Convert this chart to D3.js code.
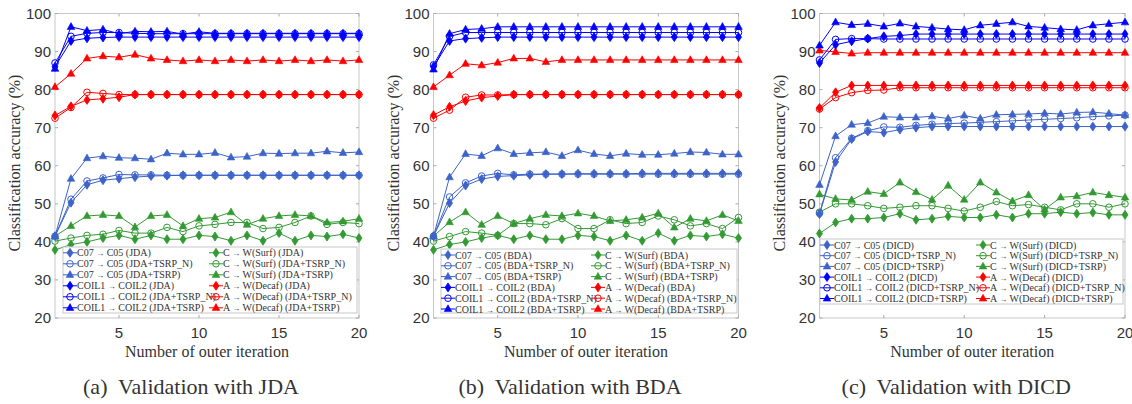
<!DOCTYPE html>
<html>
<head>
<meta charset="utf-8">
<script src="https://cdn.jsdelivr.net/npm/d3@7"></script>
<style>
  body { margin: 0; background: #fff; }
  .tick-label { font-family: "Liberation Sans", Arial, sans-serif; font-size: 15px; fill: #333; }
  .serif { font-family: "Liberation Serif", "Times New Roman", serif; fill: #333; white-space: pre; }
</style>
</head>
<body>
<svg id="chart" width="1132" height="404"></svg>
<script>

// x categories and tick labels
var iterations = [1,2,3,4,5,6,7,8,9,10,11,12,13,14,15,16,17,18,19,20];
var xTicks = [5, 10, 15, 20];
var yTicks = [20, 30, 40, 50, 60, 70, 80, 90, 100];

// series order inside each group: [base, +TSRP_N, +TSRP]
var jdaC07 = [
  [41.5,50.3,55.0,56.2,56.6,57.0,57.3,57.4,57.5,57.5,57.5,57.5,57.5,57.5,57.5,57.5,57.5,57.5,57.5,57.5],
  [41.5,51.2,56.0,56.8,57.7,57.6,57.6,57.5,57.5,57.5,57.5,57.5,57.5,57.5,57.5,57.5,57.5,57.5,57.5,57.5],
  [41.5,56.6,62.0,62.5,62.1,62.0,61.7,63.3,63.0,63.0,63.4,62.2,62.4,63.3,63.2,63.3,63.3,63.8,63.4,63.6]
];
var jdaCoil = [
  [86.0,92.8,93.5,93.7,93.8,93.8,93.8,93.8,93.8,93.8,93.8,93.8,93.8,93.8,93.8,93.8,93.8,93.8,93.8,93.8],
  [87.0,94.0,94.8,95.0,95.0,94.8,94.7,94.7,94.7,94.7,94.7,94.7,94.7,94.7,94.7,94.7,94.7,94.7,94.7,94.7],
  [85.5,96.5,95.5,95.8,94.7,95.3,95.2,95.3,94.6,95.2,94.8,94.8,94.8,94.8,94.8,94.8,94.8,94.8,94.8,94.8]
];
var jdaSurf = [
  [37.9,39.3,40.0,41.0,41.7,40.7,41.7,40.7,40.7,41.7,41.4,40.3,41.7,40.3,42.3,40.3,41.7,41.4,42.0,41.0],
  [40.2,41.0,41.7,42.0,43.0,42.3,42.3,43.8,42.7,44.2,44.6,45.1,45.1,43.5,43.8,45.1,46.8,44.6,45.1,44.8],
  [41.5,44.2,46.8,47.1,46.8,43.9,46.8,47.1,44.2,46.1,46.4,47.8,44.5,46.1,46.8,47.1,46.8,45.1,45.4,46.1]
];
var jdaDecaf = [
  [73.2,75.6,77.3,77.6,78.0,78.7,78.7,78.7,78.7,78.7,78.7,78.7,78.7,78.7,78.7,78.7,78.7,78.7,78.7,78.7],
  [72.5,75.3,79.3,79.0,78.7,78.7,78.7,78.7,78.7,78.7,78.7,78.7,78.7,78.7,78.7,78.7,78.7,78.7,78.7,78.7],
  [80.7,84.2,88.2,88.8,88.5,89.2,88.2,87.8,87.5,87.8,87.5,87.8,87.5,87.8,87.5,87.8,87.5,87.8,87.5,87.8]
];

var bdaC07 = [
  [41.5,50.2,54.8,56.5,57.2,57.4,57.6,57.8,57.8,57.9,57.9,57.9,57.9,58.0,58.0,58.0,58.0,58.0,58.0,58.0],
  [41.5,51.8,55.5,57.3,58.0,57.6,57.8,57.8,57.8,57.8,57.8,57.8,57.8,57.8,57.8,57.8,57.8,57.8,57.8,57.8],
  [41.5,57.0,63.1,62.6,64.6,63.1,63.4,63.6,62.6,64.1,63.1,62.6,63.2,62.9,62.9,63.2,63.6,63.5,63.0,63.0]
];
var bdaCoil = [
  [86.0,92.8,93.4,93.6,93.8,93.8,93.8,93.8,93.8,93.8,93.8,93.8,93.8,93.8,93.8,93.8,93.8,93.8,93.8,93.8],
  [86.5,94.0,95.0,95.0,95.0,95.0,95.0,95.0,95.0,95.0,95.0,95.0,95.0,95.0,95.0,95.0,95.0,95.0,95.0,95.0],
  [85.3,94.7,95.8,96.0,96.5,96.5,96.5,96.5,96.5,96.5,96.5,96.5,96.5,96.5,96.5,96.5,96.5,96.5,96.5,96.5]
];
var bdaSurf = [
  [37.9,39.3,40.0,41.0,41.7,40.7,41.7,40.7,40.7,41.7,41.4,40.3,41.7,40.3,42.3,40.3,41.7,41.4,42.0,41.0],
  [40.2,41.4,42.7,42.3,41.7,44.8,44.8,44.5,46.1,43.5,43.5,45.8,44.8,45.1,46.8,45.8,44.2,44.8,43.5,46.4],
  [41.5,45.2,47.8,44.5,46.8,44.8,46.1,47.1,46.8,47.5,46.8,45.5,45.8,46.4,47.5,43.8,46.1,45.5,47.1,45.5]
];
var bdaDecaf = [
  [73.3,75.5,77.0,77.9,78.3,78.7,78.7,78.7,78.7,78.7,78.7,78.7,78.7,78.7,78.7,78.7,78.7,78.7,78.7,78.7],
  [72.5,74.6,78.0,78.6,78.6,78.7,78.7,78.7,78.7,78.7,78.7,78.7,78.7,78.7,78.7,78.7,78.7,78.7,78.7,78.7],
  [80.7,83.8,86.8,86.4,87.1,88.2,88.2,87.3,87.8,87.8,87.8,87.8,87.8,87.8,87.8,87.8,87.8,87.8,87.8,87.8]
];

var dicdC07 = [
  [47.3,61.0,67.0,69.0,68.7,69.5,70.0,70.3,70.3,70.3,70.3,70.3,70.3,70.3,70.3,70.3,70.3,70.3,70.3,70.3],
  [47.5,62.1,67.2,69.2,70.2,70.1,70.6,70.9,71.1,71.2,71.4,71.6,71.8,72.0,72.2,72.4,72.6,72.9,73.1,73.3],
  [55.0,67.8,70.8,71.2,72.9,72.7,72.7,73.0,72.4,73.2,72.4,73.4,73.5,73.6,73.8,73.6,74.0,74.1,73.7,73.3]
];
var dicdCoil = [
  [87.0,91.8,92.7,93.4,94.0,94.2,94.6,94.6,94.6,94.6,94.6,94.6,94.6,94.6,94.6,94.6,94.6,94.6,94.6,94.6],
  [87.8,93.2,93.4,93.4,93.3,93.3,93.3,93.3,93.3,93.3,93.3,93.3,93.3,93.3,93.3,93.3,93.3,93.3,93.3,93.3],
  [91.6,97.7,97.0,97.3,96.6,97.4,96.6,96.3,95.9,95.7,96.9,97.3,97.7,96.6,96.3,95.9,95.7,96.9,97.3,97.7]
];
var dicdSurf = [
  [42.2,45.1,46.1,46.1,46.4,47.4,45.8,46.1,46.7,46.4,46.4,47.1,46.4,47.4,47.4,47.8,47.4,47.7,47.1,47.1],
  [47.8,50.0,50.0,49.5,48.8,49.1,49.5,49.5,48.8,48.1,49.1,50.6,49.5,49.8,49.1,48.4,50.0,50.0,49.1,50.0],
  [52.5,51.3,51.0,53.2,52.6,55.6,53.1,51.1,54.8,51.1,55.6,53.0,50.7,52.3,48.5,51.7,52.0,53.0,52.3,51.7]
];
var dicdDecaf = [
  [75.2,79.3,81.1,81.1,81.1,81.1,81.1,81.1,81.1,81.1,81.1,81.1,81.1,81.1,81.1,81.1,81.1,81.1,81.1,81.1],
  [74.9,77.9,79.2,79.8,79.9,80.5,80.5,80.5,80.5,80.5,80.5,80.5,80.5,80.5,80.5,80.5,80.5,80.5,80.5,80.5],
  [90.3,89.9,89.5,89.7,89.7,89.7,89.7,89.7,89.7,89.7,89.7,89.7,89.7,89.7,89.7,89.7,89.7,89.7,89.7,89.7]
];

var variants = ["", "+TSRP_N", "+TSRP"];
var markers = ["diamond", "circle", "triangle"];

var colors = { c07: "#3d63c9", coil: "#0000ff", surf: "#339a33", decaf: "#ff0000" };

var panels = [
  { method: "JDA", caption: "(a)  Validation with JDA", left: 55, right: 359,
    c07: jdaC07, coil: jdaCoil, surf: jdaSurf, decaf: jdaDecaf,
    legend: { x0: 63, x1: 357, y0: 247, y1: 313, row0: 252.8, step: 11, col1: 70, col2: 216 } },
  { method: "BDA", caption: "(b)  Validation with BDA", left: 433.5, right: 738.5,
    c07: bdaC07, coil: bdaCoil, surf: bdaSurf, decaf: bdaDecaf,
    legend: { x0: 441, x1: 737, y0: 249, y1: 313, row0: 255, step: 10.8, col1: 448, col2: 598 } },
  { method: "DICD", caption: "(c)  Validation with DICD", left: 819.5, right: 1125,
    c07: dicdC07, coil: dicdCoil, surf: dicdSurf, decaf: dicdDecaf,
    legend: { x0: 820, x1: 1123, y0: 239, y1: 304, row0: 245, step: 10.7, col1: 827, col2: 983 } }
];

var plotTop = 13.5, plotBottom = 318;
var svg = d3.select("#chart");

function drawMarker(g, type, color) {
  if (type === "diamond") {
    g.append("path").attr("d", "M0,-4.5L3,0L0,4.5L-3,0Z").attr("fill", color).attr("stroke", color).attr("stroke-width", 0.8);
  } else if (type === "circle") {
    g.append("circle").attr("r", 3.3).attr("fill", "none").attr("stroke", color).attr("stroke-width", 1);
  } else {
    g.append("path").attr("d", "M0,-4.2L3.8,2.6L-3.8,2.6Z").attr("fill", color).attr("stroke", color).attr("stroke-width", 0.6);
  }
}

panels.forEach(function(p) {
  var x = d3.scaleLinear().domain([1, 20]).range([p.left, p.right]);
  var y = d3.scaleLinear().domain([20, 100]).range([plotBottom, plotTop]);
  var g = svg.append("g");

  // frame
  g.append("rect")
    .attr("x", p.left).attr("y", plotTop)
    .attr("width", p.right - p.left).attr("height", plotBottom - plotTop)
    .attr("fill", "none").attr("stroke", "#c8c8c8").attr("stroke-width", 1);

  // ticks, inward on all sides
  xTicks.forEach(function(t) {
    g.append("line").attr("x1", x(t)).attr("x2", x(t)).attr("y1", plotBottom).attr("y2", plotBottom - 3).attr("stroke", "#aaa");
    g.append("line").attr("x1", x(t)).attr("x2", x(t)).attr("y1", plotTop).attr("y2", plotTop + 3).attr("stroke", "#aaa");
    g.append("text").attr("class", "tick-label")
      .attr("x", x(t)).attr("y", plotBottom + 20).attr("text-anchor", "middle").text(t);
  });
  yTicks.forEach(function(t) {
    g.append("line").attr("x1", p.left).attr("x2", p.left + 3).attr("y1", y(t)).attr("y2", y(t)).attr("stroke", "#aaa");
    g.append("line").attr("x1", p.right).attr("x2", p.right - 3).attr("y1", y(t)).attr("y2", y(t)).attr("stroke", "#aaa");
    g.append("text").attr("class", "tick-label")
      .attr("x", p.left - 4).attr("y", y(t) + 5).attr("text-anchor", "end").text(t);
  });

  // axis labels and caption
  g.append("text").attr("class", "serif")
    .attr("transform", "translate(" + (p.left - 35) + "," + 163 + ") rotate(-90)")
    .attr("text-anchor", "middle").style("font-size", "16px")
    .text("Classification accuracy (%)");
  g.append("text").attr("class", "serif")
    .attr("x", (p.left + p.right) / 2).attr("y", 357)
    .attr("text-anchor", "middle").style("font-size", "16px")
    .text("Number of outer iteration");
  g.append("text").attr("class", "serif")
    .attr("x", (p.left + p.right) / 2 - 16).attr("y", 394)
    .attr("text-anchor", "middle").style("font-size", "22px")
    .text(p.caption);

  var line = d3.line()
    .x(function(d, i) { return x(iterations[i]); })
    .y(function(d) { return y(d); });

  var groups = ["surf", "c07", "decaf", "coil"];

  groups.forEach(function(key) {
    p[key].forEach(function(vals, s) {
      var color = colors[key];
      g.append("path").datum(vals)
        .attr("d", line).attr("fill", "none")
        .attr("stroke", color).attr("stroke-width", 1);
      vals.forEach(function(v, i) {
        var m = g.append("g").attr("transform", "translate(" + x(iterations[i]) + "," + y(v) + ")");
        drawMarker(m, markers[s], color);
      });
    });
  });

  // legend
  var L = p.legend;
  g.append("rect").attr("x", L.x0).attr("y", L.y0)
    .attr("width", L.x1 - L.x0).attr("height", L.y1 - L.y0)
    .attr("fill", "#fff").attr("stroke", "#c8c8c8");

  var cols = [
    { cx: L.col1, items: [["c07", "C07", "C05"], ["coil", "COIL1", "COIL2"]] },
    { cx: L.col2, items: [["surf", "C", "W(Surf)"], ["decaf", "A", "W(Decaf)"]] }
  ];
  cols.forEach(function(col) {
    var row = 0;
    col.items.forEach(function(it) {
      variants.forEach(function(v, s) {
        var ly = L.row0 + row * L.step;
        var color = colors[it[0]];
        g.append("line").attr("x1", col.cx - 7).attr("x2", col.cx + 7)
          .attr("y1", ly).attr("y2", ly).attr("stroke", color);
        var m = g.append("g").attr("transform", "translate(" + col.cx + "," + ly + ")");
        drawMarker(m, markers[s], color);
        var t = g.append("text").attr("class", "serif")
          .attr("x", col.cx + 7).attr("y", ly + 3.6)
          .style("font-size", "10px");
        t.append("tspan").text(it[1] + " ");
        t.append("tspan").style("font-size", "8px").text("\u2192");
        t.append("tspan").text(" " + it[2] + " (" + p.method + v + ")");
        row++;
      });
    });
  });
});
</script>
</body>
</html>
